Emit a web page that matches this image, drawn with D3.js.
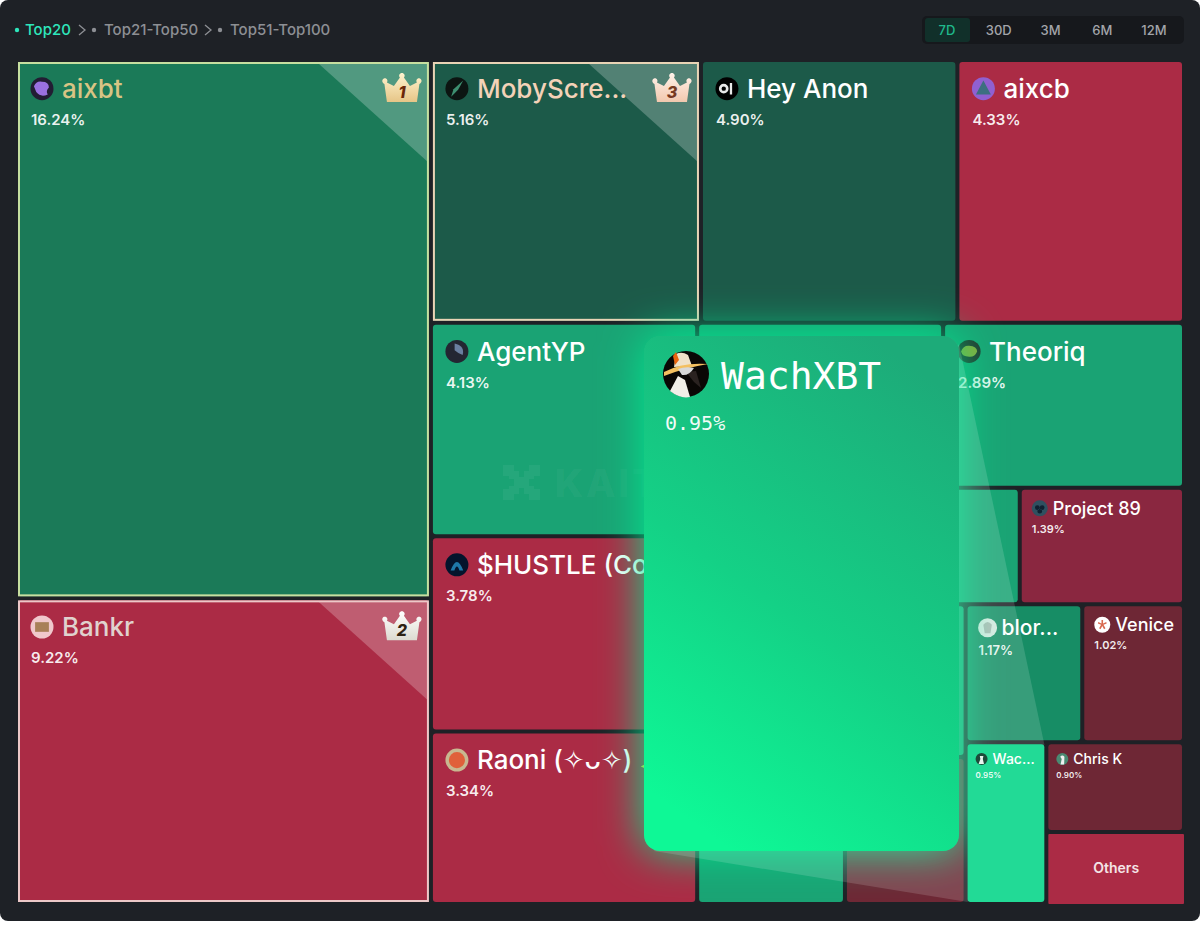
<!DOCTYPE html>
<html>
<head>
<meta charset="utf-8">
<title>Top20 treemap</title>
<script src="https://cdn.jsdelivr.net/npm/d3@7"></script>
<style>
  html, body { margin: 0; padding: 0; background: #fff; }
  svg { display: block; }
  text { font-family: Inter, "Noto Sans", "DejaVu Sans", sans-serif; }
</style>
</head>
<body>
<div id="chart"></div>
<script>
// Values. Blank names are the tiles hidden behind the hover card,
// their shares are estimated from the room they take up.
const tileIds = ["aixbt", "bankr", "moby", "heyanon", "aixcb", "agentyp", "hustle", "raoni", "hiddenA", "theoriq",
    "hiddenB", "hiddenC", "project89", "hiddenD", "hiddenE", "hiddenF", "hiddenG", "blor", "venice", "wac", "chrisk", "others"];
const tileNames = ["aixbt", "Bankr", "MobyScre...", "Hey Anon", "aixcb", "AgentYP", "$HUSTLE (Co...", "Raoni (✧ᴗ✧) ✨", "", "Theoriq",
    "", "", "Project 89", "", "", "", "", "blor...", "Venice", "Wac...", "Chris K", "Others"];
const tileShares = [16.24, 9.22, 5.16, 4.90, 4.33, 4.13, 3.78, 3.34, 2.95, 2.89,
    1.37, 1.36, 1.39, 1.60, 1.38, 1.58, 1.29, 1.17, 1.02, 0.95, 0.90, 0.72];
const tileMoods = ["upB", "down", "upA", "upA", "down", "upC", "down", "down", "upC", "upC",
    "upC", "upC", "downB", "upC", "upC", "upC", "downC", "upD", "downC", "upE", "downC", "down"];
const tileGroups = ["L", "L", "R/top", "R/top", "R/top", "R/rest/c1", "R/rest/c1", "R/rest/c1", "R/rest/c2/r1", "R/rest/c2/r1",
    "R/rest/c2/r2", "R/rest/c2/r2", "R/rest/c2/r2", "R/rest/c2/r3/m/up", "R/rest/c2/r3/m/up", "R/rest/c2/r3/m/low", "R/rest/c2/r3/m/low",
    "R/rest/c2/r3/n/v", "R/rest/c2/r3/n/v", "R/rest/c2/r3/n/w", "R/rest/c2/r3/n/w/x", "R/rest/c2/r3/n/w/x"];
const rankedIds = ["aixbt", "bankr", "moby"];
const navLabels = ["Top20", "Top21-Top50", "Top51-Top100"];
const rangeLabels = ["7D", "30D", "3M", "6M", "12M"];
const hoverName = "WachXBT";
const hoverShare = 0.95;

const width = 1200, height = 931;
const plotX = 18, plotY = 62;

const moodColor = d3.scaleOrdinal()
    .domain(["upA", "upB", "upC", "upD", "upE", "down", "downB", "downC"])
    .range(["#1c5a49", "#1b7a58", "#1aa374", "#178d65", "#22da96", "#ab2b45", "#8a2740", "#6e2735"]);

const rankStyle = {
    aixbt: { border: "#c6dfa0", label: "#d8c484", top: "#fff4cf", bottom: "#e6c587", num: "#6b2708", rank: 1 },
    bankr: { border: "#ecc8c8", label: "#e0d2ce", top: "#ffffff", bottom: "#dcdad0", num: "#2d2214", rank: 2 },
    moby: { border: "#e9d4b6", label: "#f3d2b8", top: "#fff2ea", bottom: "#f2c8ae", num: "#763a22", rank: 3 }
};

// small stand-ins for the profile pictures: back, motif colour, motif on a unit circle
const avatarStyle = {
    aixbt: ["#221d33", "#9a70e0", "M-0.7,-0.2 Q-0.5,-0.7 0,-0.6 Q0.6,-0.6 0.6,-0.1 Q0.3,0.2 0.5,0.5 Q-0.1,0.8 -0.5,0.3 Z"],
    bankr: ["#f0c8cc", "#a88058", "M-0.6,-0.42 H0.6 V0.42 H-0.6 Z"],
    moby: ["#0c1512", "#3d8f70", "M0.55,-0.7 L0.1,0.1 L-0.5,0.7 L-0.3,0.05 Z"],
    heyanon: ["#000000", "#e8e8e8", "M-0.7,0 A0.42,0.42 0 1 1 0.14,0 A0.42,0.42 0 1 1 -0.7,0 Z M-0.47,0 A0.19,0.19 0 1 0 -0.09,0 A0.19,0.19 0 1 0 -0.47,0 Z M0.25,-0.5 H0.45 V0.5 H0.25 Z"],
    aixcb: ["#9060d0", "#3d6f80", "M0,-0.7 L0.65,0.5 L-0.65,0.5 Z"],
    agentyp: ["#232632", "#6a7fa0", "M-0.2,-0.7 Q0.7,-0.5 0.5,0.3 Q0,0.1 -0.2,-0.1 Z"],
    hustle: ["#04142c", "#1f78a8", "M-0.55,0.5 Q0,-1 0.55,0.5 L0.22,0.5 Q0,-0.2 -0.22,0.5 Z"],
    raoni: ["#c8b890", "#e0603a", "M-0.7,0 A0.7,0.7 0 1 1 0.7,0 A0.7,0.7 0 1 1 -0.7,0 Z"],
    theoriq: ["#25352c", "#8aa838", "M-0.7,0 Q-0.5,-0.55 0,-0.5 Q0.7,-0.45 0.7,0 Q0.5,0.5 0,0.45 Q-0.6,0.45 -0.7,0 Z"],
    project89: ["#2f5060", "#0f2030", "M-0.6,-0.1 A0.3,0.3 0 1 1 0,-0.1 A0.3,0.3 0 1 1 -0.6,-0.1 Z M0,-0.1 A0.3,0.3 0 1 1 0.6,-0.1 A0.3,0.3 0 1 1 0,-0.1 Z M-0.3,0.35 A0.3,0.3 0 1 1 0.3,0.35 A0.3,0.3 0 1 1 -0.3,0.35 Z"],
    blor: ["#d8e8e0", "#a8b8b0", "M-0.45,-0.3 Q0,-0.9 0.45,-0.3 L0.3,0.6 H-0.3 Z"],
    venice: ["#ffffff", "#d86a50", "M-0.1,-0.6 H0.1 V-0.15 L0.5,-0.35 L0.55,-0.15 L0.15,0 L0.4,0.45 L0.22,0.55 L0,0.15 L-0.22,0.55 L-0.4,0.45 L-0.15,0 L-0.55,-0.15 L-0.5,-0.35 L-0.1,-0.15 Z"],
    wac: ["#1d4a3a", "#e8f4ee", "M-0.5,0.8 L-0.2,0 L-0.3,-0.5 L0.3,-0.5 L0.2,0 L0.4,0.8 Z"],
    chrisk: ["#4a8a72", "#f0f0f0", "M-0.3,0.9 L-0.1,0 L-0.35,-0.4 Q0,-0.8 0.35,-0.4 L0.3,0.9 Z"]
};

// label sizes go by the short side of the tile
const labelTier = d3.scaleThreshold()
    .domain([90, 115, 150])
    .range([
        { name: 14, pct: 8, r: 6, ax: 14, tx: 25, base: 20, px: 8, pb: 34 },
        { name: 18, pct: 11, r: 8, ax: 18, tx: 31, base: 25, px: 10, pb: 43 },
        { name: 21, pct: 13, r: 9.5, ax: 20, tx: 34, base: 29, px: 11, pb: 49 },
        { name: 26, pct: 15, r: 11.5, ax: 24, tx: 44, base: 36, px: 13, pb: 63 }
    ]);

const rows = tileIds.map((id, i) => ({
    path: `/${tileGroups[i]}/${id}`,
    id: id, name: tileNames[i], share: tileShares[i], mood: tileMoods[i]
}));

const root = d3.stratify().path(d => d.path)(rows)
    .sum(d => (d && d.share) || 0);

// columns and rows alternate at each depth
d3.treemap()
    .tile((node, x0, y0, x1, y1) => {
        (node.depth % 2 ? d3.treemapSlice : d3.treemapDice)(node, x0, y0, x1, y1);
    })
    .size([1164, 840])
    .paddingInner(4)(root);

const leaves = root.leaves();

const svg = d3.select("#chart").append("svg")
    .attr("width", width)
    .attr("height", height);

const defs = svg.append("defs");

const glow = defs.append("filter")
    .attr("id", "glow")
    .attr("x", "-30%").attr("y", "-30%")
    .attr("width", "160%").attr("height", "160%");
glow.append("feGaussianBlur").attr("stdDeviation", 22);

const cardFill = defs.append("linearGradient")
    .attr("id", "cardFill")
    .attr("x1", "0.72").attr("y1", "0")
    .attr("x2", "0.28").attr("y2", "1");
cardFill.append("stop").attr("offset", "0%").attr("stop-color", "#1dab79");
cardFill.append("stop").attr("offset", "55%").attr("stop-color", "#14d186");
cardFill.append("stop").attr("offset", "100%").attr("stop-color", "#0ef896");

Object.entries(rankStyle).forEach(([id, s]) => {
    const g = defs.append("linearGradient")
        .attr("id", `crown-${id}`)
        .attr("x1", 0).attr("y1", 0).attr("x2", 0).attr("y2", 1);
    g.append("stop").attr("offset", "0%").attr("stop-color", s.top);
    g.append("stop").attr("offset", "100%").attr("stop-color", s.bottom);
});

// panel
svg.append("rect")
    .attr("width", width)
    .attr("height", 921)
    .attr("rx", 8)
    .attr("fill", "#1e2126");

drawHeader();

const plot = svg.append("g").attr("transform", `translate(${plotX},${plotY})`);

const tile = plot.selectAll("g.tile")
    .data(leaves)
    .enter().append("g")
    .attr("class", "tile")
    .attr("transform", d => `translate(${d.x0},${d.y0})`);

// Others sits a little proud of the grid in the original
const outset = d => d.data.id === "others" ? 2 : 0;

tile.append("rect")
    .attr("width", d => d.x1 - d.x0 + outset(d))
    .attr("height", d => d.y1 - d.y0 + outset(d))
    .attr("rx", d => outset(d) ? 1 : 3)
    .attr("fill", d => moodColor(d.data.mood));

// corner sheen and frame for the three leaders
const ranked = tile.filter(d => rankedIds.includes(d.data.id));

ranked.append("path")
    .attr("d", d => {
        const w = d.x1 - d.x0;
        return `M${w - 111},1 L${w - 1},1 L${w - 1},100 Z`;
    })
    .attr("fill", "#fff")
    .attr("fill-opacity", 0.24);

ranked.append("rect")
    .attr("x", 1).attr("y", 1)
    .attr("width", d => d.x1 - d.x0 - 2)
    .attr("height", d => d.y1 - d.y0 - 2)
    .attr("fill", "none")
    .attr("stroke-width", 2)
    .attr("stroke", d => rankStyle[d.data.id].border);

const crown = ranked.append("g")
    .attr("transform", d => `translate(${d.x1 - d.x0 - 27},${12})`);

crown.append("path")
    .attr("d", "M-15,28 L-17.5,10 C-20,9 -20.5,5.5 -18,4.5 C-15.5,3.5 -13.5,6.5 -15,8.5 L-8,12 L-2,3.5 C-3.8,1.5 -2.2,-1 0,-1 C2.2,-1 3.8,1.5 2,3.5 L8,12 L15,8.5 C13.5,6.5 15.5,3.5 18,4.5 C20.5,5.5 20,9 17.5,10 L15,28 Z")
    .attr("fill", d => `url(#crown-${d.data.id})`);

crown.append("text")
    .attr("y", 24)
    .attr("text-anchor", "middle")
    .attr("font-size", 16)
    .attr("font-weight", 800)
    .attr("font-style", "italic")
    .attr("fill", d => rankStyle[d.data.id].num)
    .text(d => rankStyle[d.data.id].rank);

// names, shares, avatars
const labelled = tile.filter(d => d.data.name && d.data.id !== "others");

const avatar = labelled.append("g")
    .attr("transform", d => {
        const t = tierOf(d);
        return `translate(${t.ax},${t.base - t.name * 0.36})`;
    });

avatar.append("circle")
    .attr("r", d => tierOf(d).r)
    .attr("fill", d => avatarStyle[d.data.id][0]);

avatar.append("path")
    .attr("d", d => avatarStyle[d.data.id][2])
    .attr("transform", d => `scale(${tierOf(d).r})`)
    .attr("fill-rule", "evenodd")
    .attr("fill", d => avatarStyle[d.data.id][1]);

labelled.append("text")
    .attr("x", d => tierOf(d).tx)
    .attr("y", d => tierOf(d).base)
    .attr("font-size", d => tierOf(d).name)
    .attr("font-weight", 500)
    .attr("fill", d => rankStyle[d.data.id] ? rankStyle[d.data.id].label : "#fff")
    .text(d => d.data.name);

labelled.append("text")
    .attr("x", d => tierOf(d).px)
    .attr("y", d => tierOf(d).pb)
    .attr("font-size", d => tierOf(d).pct)
    .attr("font-weight", 600)
    .attr("fill", "#fff")
    .attr("fill-opacity", 0.92)
    .text(d => d.data.share.toFixed(2) + "%");

tile.filter(d => d.data.id === "others").append("text")
    .attr("x", d => (d.x1 - d.x0) / 2 + 1)
    .attr("y", d => (d.y1 - d.y0) / 2 + 5)
    .attr("text-anchor", "middle")
    .attr("font-size", 14)
    .attr("font-weight", 600)
    .attr("fill", "#f4e4e6")
    .text(d => d.data.name);

drawWatermark();
drawHoverCard();

function tierOf(d) {
    return labelTier(Math.min((d.x1 - d.x0) * 1.05, d.y1 - d.y0));
}

function drawHeader() {
    const head = svg.append("g").attr("font-size", 15).attr("font-weight", 500);
    const labelX = [25, 104, 230];
    const dotX = [17, 94, 220];
    const chevX = [79, 205];

    head.selectAll("circle")
        .data(navLabels)
        .enter().append("circle")
        .attr("cx", (d, i) => dotX[i])
        .attr("cy", 30)
        .attr("r", 2.2)
        .attr("fill", (d, i) => i === 0 ? "#2ee6bb" : "#8d8f94");

    head.selectAll("text")
        .data(navLabels)
        .enter().append("text")
        .attr("x", (d, i) => labelX[i])
        .attr("y", 35)
        .attr("fill", (d, i) => i === 0 ? "#2ee6bb" : "#8d8f94")
        .text(d => d);

    head.selectAll("path")
        .data(chevX)
        .enter().append("path")
        .attr("d", d => `M${d},25 L${d + 6},30 L${d},35`)
        .attr("fill", "none")
        .attr("stroke", "#8d8f94")
        .attr("stroke-width", 1.3);

    const x = d3.scalePoint().domain(rangeLabels).range([947, 1154]);

    svg.append("rect")
        .attr("x", 922).attr("y", 16)
        .attr("width", 262).attr("height", 28)
        .attr("rx", 5)
        .attr("fill", "#16181c");
    svg.append("rect")
        .attr("x", 925).attr("y", 18)
        .attr("width", 45).attr("height", 24)
        .attr("rx", 3)
        .attr("fill", "#11302a");

    svg.selectAll("text.range")
        .data(rangeLabels)
        .enter().append("text")
        .attr("class", "range")
        .attr("x", d => x(d))
        .attr("y", 35)
        .attr("text-anchor", "middle")
        .attr("font-size", 13)
        .attr("font-weight", 500)
        .attr("fill", (d, i) => i === 0 ? "#1fb98c" : "#a3a5aa")
        .text(d => d);
}

function drawWatermark() {
    const mark = svg.append("g")
        .attr("transform", "translate(503,465)")
        .attr("fill", "#fff")
        .attr("fill-opacity", 0.05);

    mark.append("path")
        .attr("d", "M0,0 H11 V6 H16 V12 H21 V6 H26 V0 H37 V11 H31 V14 H26 V21 H31 V24 H37 V35 H26 V29 H21 V23 H16 V29 H11 V35 H0 V24 H6 V21 H11 V14 H6 V11 H0 Z");

    mark.append("text")
        .attr("x", 52)
        .attr("y", 32)
        .attr("font-size", 38)
        .attr("font-weight", 800)
        .attr("letter-spacing", 3)
        .text("KAITO");
}

function drawHoverCard() {
    const card = { x: 644, y: 336, w: 315, h: 515 };
    const wac = leaves.find(d => d.data.id === "wac");

    // green glow round the card
    svg.append("rect")
        .attr("x", card.x).attr("y", card.y)
        .attr("width", card.w).attr("height", card.h)
        .attr("rx", 16)
        .attr("fill", "#10e890")
        .attr("filter", "url(#glow)");

    // beam from the card to the tile it belongs to
    const beam = d3.line()([
        [card.x + card.w, card.y + 8],
        [wac.x1 + plotX, wac.y0 + plotY],
        [wac.x0 + plotX, wac.y1 + plotY],
        [card.x + 10, card.y + card.h]
    ]) + "Z";

    svg.append("path")
        .attr("d", beam)
        .attr("fill", "#fff")
        .attr("fill-opacity", 0.14);

    // the beam stops at the tile itself, so lift it above the glow and beam
    const lifted = svg.append("g").attr("transform", `translate(${plotX},${plotY})`);
    tile.filter(d => d.data.id === "wac").each(function() {
        lifted.node().appendChild(this);
    });

    svg.append("rect")
        .attr("x", card.x).attr("y", card.y)
        .attr("width", card.w).attr("height", card.h)
        .attr("rx", 16)
        .attr("fill", "url(#cardFill)");

    const face = svg.append("g").attr("transform", `translate(${card.x + 42},${card.y + 38})`);
    face.append("circle").attr("r", 23).attr("fill", "#0a0705");
    // coat
    face.append("path")
        .attr("d", "M-16,17 L-8,2 L-1,6 L4,23 Q-6,25 -16,17 Z")
        .attr("fill", "#f2efe8");
    // beak
    face.append("path")
        .attr("d", "M0,-2 L10,-3 L15,14 L8,8 Z")
        .attr("fill", "#2a2220");
    // hat
    face.append("path")
        .attr("d", "M-12,-7 L-10,-20 Q-4,-23 2,-19 L6,-8 Z")
        .attr("fill", "#f0e2c8");
    face.append("path")
        .attr("d", "M-13,-18 L-10,-22 L-7,-14 L-11,-9 Z")
        .attr("fill", "#e8650f");
    // brim
    face.append("path")
        .attr("d", "M-22,-2 Q-4,-12 22,-10 Q-2,-6 -22,2 Z")
        .attr("fill", "#f4c060");
    face.append("path")
        .attr("d", "M-8,-5 Q0,-8 8,-6 Q3,2 -4,1 Z")
        .attr("fill", "#d8d8d8");

    svg.append("text")
        .attr("x", card.x + 77)
        .attr("y", card.y + 53)
        .style("font-family", "'DejaVu Sans Mono', monospace")
        .attr("font-size", 38)
        .attr("fill", "#fff")
        .text(hoverName);

    svg.append("text")
        .attr("x", card.x + 21)
        .attr("y", card.y + 94)
        .style("font-family", "'DejaVu Sans Mono', monospace")
        .attr("font-size", 20)
        .attr("fill", "#fff")
        .attr("fill-opacity", 0.95)
        .text(hoverShare.toFixed(2) + "%");
}
</script>
</body>
</html>
